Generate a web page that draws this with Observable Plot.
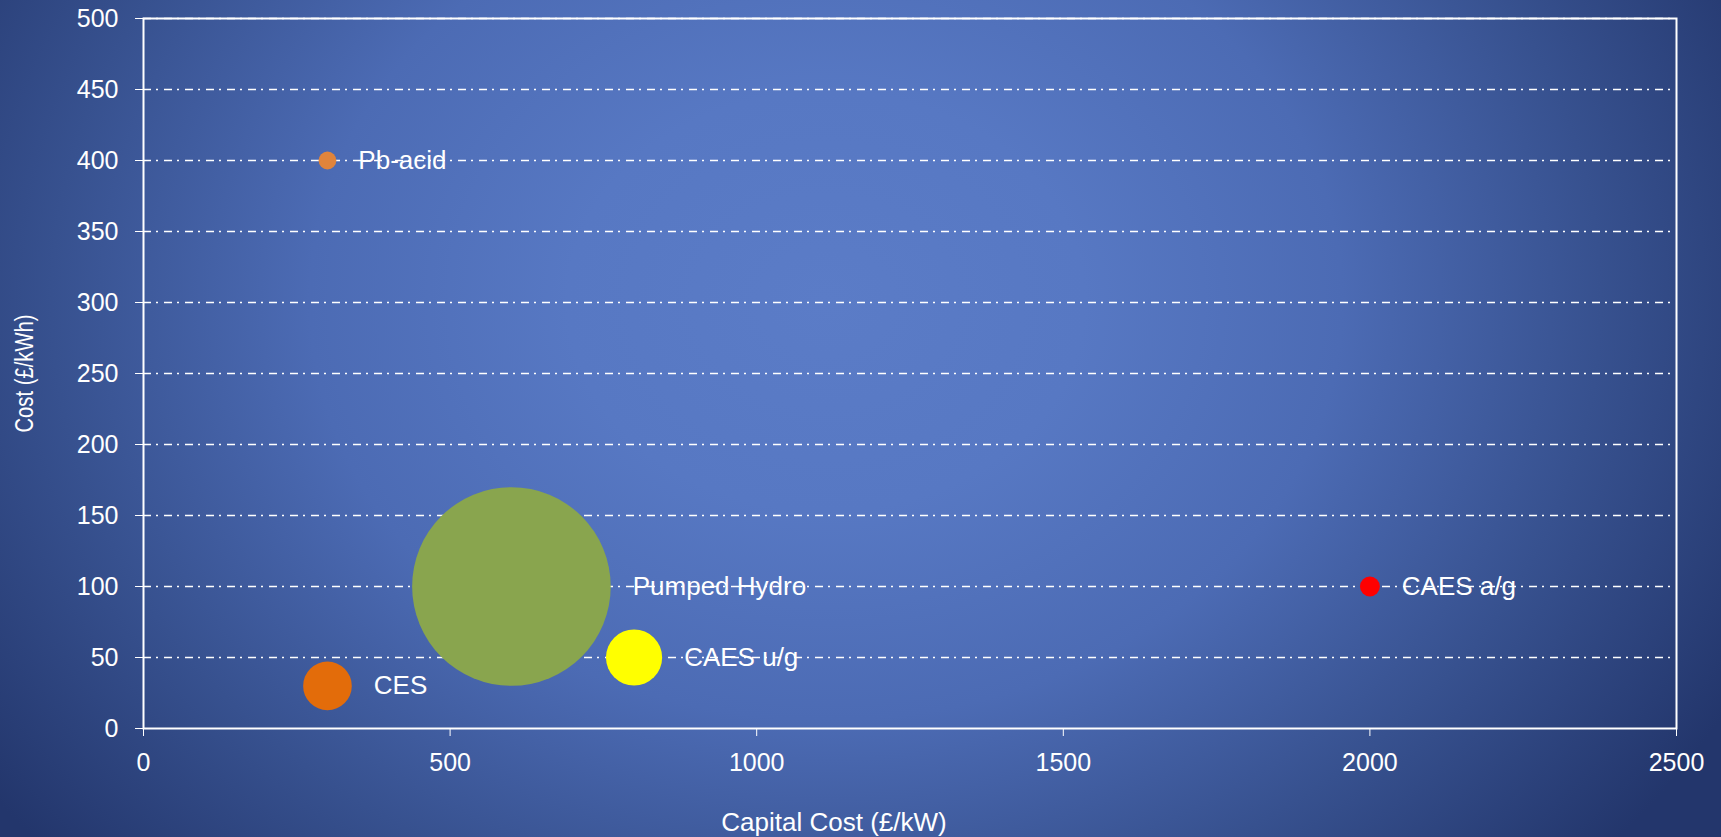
<!DOCTYPE html>
<html>
<head>
<meta charset="utf-8">
<script src="https://cdn.jsdelivr.net/npm/d3@7"></script>
<script src="https://cdn.jsdelivr.net/npm/@observablehq/plot@0.6"></script>
<style>
  html, body { margin: 0; padding: 0; overflow: hidden; }
  body {
    width: 1721px;
    height: 837px;
    background: radial-gradient(ellipse 60% 100% at 48% 36%,
      #5b7cc7 0%, #5778c3 25%, #4c6bb4 50%, #37518f 75%, #23366c 100%);
  }
  #chart svg { display: block; }
</style>
</head>
<body>
<div id="chart"></div>
<script>
// Storage technologies: capital cost per kW vs cost per kWh, bubble area = relative size
const technologies = ["Pb-acid", "CES", "Pumped Hydro", "CAES u/g", "CAES a/g"];
const capitalCost  = [300, 300, 600, 800, 2000];   // £/kW
const energyCost   = [400, 30, 100, 50, 100];      // £/kWh
const bubbleSize   = [0.8, 6, 100, 8, 1];          // relative bubble size
const bubbleColor  = ["#e0843b", "#e36c0a", "#89a54e", "#ffff00", "#ff0000"];

const xTicks = [0, 500, 1000, 1500, 2000, 2500];
const yTicks = [0, 50, 100, 150, 200, 250, 300, 350, 400, 450, 500];
const gridLines = [50, 100, 150, 200, 250, 300, 350, 400, 450, 500];

const rows = technologies.map((name, i) => ({
  name,
  capital: capitalCost[i],
  cost: energyCost[i],
  size: bubbleSize[i],
  color: bubbleColor[i]
}));

const rOptions = {domain: [0, 100], range: [0, 99.3]};
const rScale = Plot.scale({r: rOptions});

const sans = "'Liberation Sans', Arial, sans-serif";

const labelMarks = rows.map(d =>
  Plot.text([d], {
    x: "capital",
    y: "cost",
    text: "name",
    textAnchor: "start",
    lineAnchor: "middle",
    dx: rScale.apply(d.size) + 22,
    fill: "white",
    fontSize: 26,
    fontFamily: sans
  })
);

const chart = Plot.plot({
  width: 1721,
  height: 837,
  marginLeft: 143,
  marginRight: 45,
  marginTop: 18,
  marginBottom: 109,
  style: {
    background: "transparent",
    color: "white",
    fontFamily: sans,
    fontSize: "25px"
  },
  x: {domain: [0, 2500], ticks: xTicks, tickFormat: d3.format("d"), tickSize: 8, tickPadding: 17, label: null},
  y: {domain: [0, 500], ticks: yTicks, tickFormat: d3.format("d"), tickSize: 8, tickPadding: 17, label: null},
  r: rOptions,
  color: {type: "identity"},
  marks: [
    Plot.ruleY(gridLines, {stroke: "white", strokeWidth: 1.6, strokeDasharray: "8,5,2,6"}),
    Plot.frame({stroke: "white", strokeWidth: 2}),
    Plot.dot(rows, {x: "capital", y: "cost", r: "size", fill: "color", stroke: null, sort: {channel: "r", order: "descending"}}),
    ...labelMarks,
    Plot.text(["Capital Cost (£/kW)"], {
      frameAnchor: "bottom", textAnchor: "middle", lineAnchor: "middle",
      dx: -76, dy: 94, fill: "white", fontSize: 26, fontFamily: sans
    }),
    Plot.text(["Cost (£/kWh)"], {
      frameAnchor: "left", textAnchor: "middle", lineAnchor: "middle", rotate: -90,
      dx: -119, fill: "white", fontSize: 25, fontFamily: sans,
      className: "y-title"
    })
  ]
});

// The vertical axis title is set in a condensed width
d3.select(chart).selectAll(".y-title text")
  .attr("textLength", 118)
  .attr("lengthAdjust", "spacingAndGlyphs");

document.getElementById("chart").appendChild(chart);
</script>
</body>
</html>
